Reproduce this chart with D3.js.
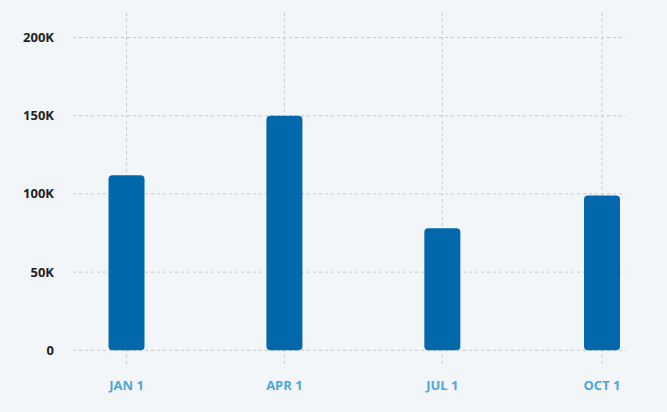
<!DOCTYPE html>
<html>
<head>
<meta charset="utf-8">
<script src="https://cdn.jsdelivr.net/npm/d3@7"></script>
<style>
html,body{margin:0;padding:0;background:#f2f6f9;}
svg{display:block;}
</style>
</head>
<body>
<svg id="chart" width="667" height="412"></svg>
<script>
const dates = ["2020-01-01","2020-04-01","2020-07-01","2020-10-01"];
const values = [112000, 150000, 78000, 99000];
const xTickLabels = ["JAN 1","APR 1","JUL 1","OCT 1"];
const yTicks = [0, 50000, 100000, 150000, 200000];
const yTickLabels = ["0","50K","100K","150K","200K"];

const W = 667, H = 412;
const parse = d3.timeParse("%Y-%m-%d");
const dd = dates.map(parse);
const svg = d3.select("#chart");

const x = d3.scaleTime().domain([dd[0], dd[3]]).range([126.5, 602]);
const y = d3.scaleLinear().domain([0, 200000]).range([350.3, 37.5]);

const gridColor = "#c4c9ce";
// horizontal gridlines
svg.append("g").selectAll("line").data(yTicks).join("line")
  .attr("x1", 73).attr("x2", 626)
  .attr("y1", d => y(d)).attr("y2", d => y(d))
  .attr("stroke", gridColor).attr("stroke-width", 1)
  .attr("stroke-dasharray", "3,3");
// vertical gridlines
svg.append("g").selectAll("line").data(dd).join("line")
  .attr("x1", d => x(d)).attr("x2", d => x(d))
  .attr("y1", 13).attr("y2", 367)
  .attr("stroke", gridColor).attr("stroke-width", 1)
  .attr("stroke-dasharray", "3,3");

// y labels
svg.append("g").selectAll("text").data(yTicks).join("text")
  .attr("x", 54).attr("y", d => y(d))
  .attr("dy", "0.35em")
  .attr("text-anchor", "end")
  .attr("font-family", "'Open Sans', sans-serif")
  .attr("font-weight", 700).attr("font-size", 13)
  .attr("fill", "#222")
  .text((d, i) => yTickLabels[i]);

// x labels
svg.append("g").selectAll("text").data(dd).join("text")
  .attr("x", d => x(d)).attr("y", 390)
  .attr("text-anchor", "middle")
  .attr("font-family", "'Open Sans', sans-serif")
  .attr("font-weight", 700).attr("font-size", 13)
  .attr("fill", "#4fa7d7")
  .text((d, i) => xTickLabels[i]);

// bars
const bw = 36;
svg.append("g").selectAll("rect").data(values).join("rect")
  .attr("x", (d, i) => x(dd[i]) - bw / 2)
  .attr("width", bw)
  .attr("y", d => y(d))
  .attr("height", d => y(0) - y(d))
  .attr("rx", 4).attr("ry", 4)
  .attr("fill", "#0068ab");
</script>
</body>
</html>
